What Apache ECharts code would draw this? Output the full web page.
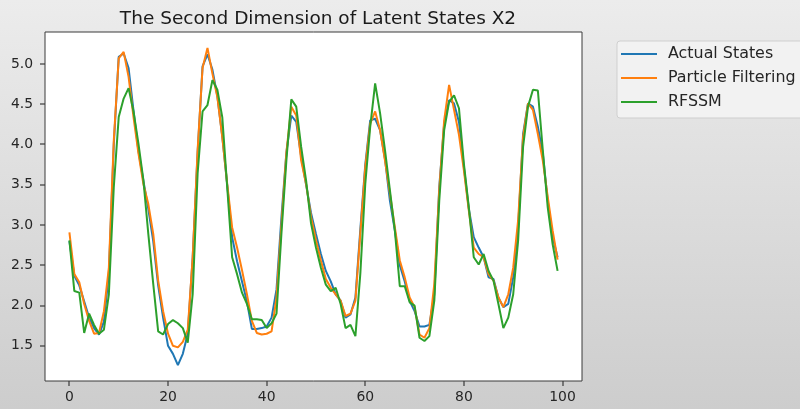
<!DOCTYPE html>
<html>
<head>
<meta charset="utf-8">
<script src="https://cdn.jsdelivr.net/npm/echarts@6/dist/echarts.min.js"></script>
<style>
  html, body { margin: 0; padding: 0; }
  #chart { width: 800px; height: 409px; }
</style>
</head>
<body>
<div id="chart"></div>
<script>
// 数据
var seriesNames = ['Actual States', 'Particle Filtering', 'RFSSM'];
var xTicks = [0, 20, 40, 60, 80, 100];
var yTicks = [1.5, 2.0, 2.5, 3.0, 3.5, 4.0, 4.5, 5.0];

var actualStates = [
  2.80, 2.37, 2.25, 2.05, 1.85, 1.72, 1.64, 1.80, 2.40, 4.00,
  5.09, 5.13, 4.95, 4.42, 3.92, 3.55, 3.20, 2.80, 2.25, 1.85,
  1.50, 1.40, 1.26, 1.40, 1.65, 2.60, 3.90, 4.97, 5.12, 4.93,
  4.60, 4.10, 3.50, 2.85, 2.55, 2.30, 2.05, 1.71, 1.71, 1.72,
  1.74, 1.85, 2.20, 3.10, 3.90, 4.36, 4.28, 3.85, 3.50, 3.15,
  2.89, 2.64, 2.43, 2.30, 2.14, 2.06, 1.85, 1.89, 2.10, 2.95,
  3.75, 4.30, 4.32, 4.18, 3.82, 3.30, 2.93, 2.50, 2.30, 2.06,
  1.93, 1.74, 1.74, 1.76, 2.14, 3.47, 4.26, 4.55, 4.51, 4.28,
  3.72, 3.20, 2.85, 2.72, 2.60, 2.35, 2.33, 2.10, 1.98, 2.02,
  2.35, 2.97, 4.13, 4.51, 4.47, 4.22, 3.89, 3.30, 2.85, 2.60
];
var particleFiltering = [
  2.91, 2.39, 2.29, 2.02, 1.81, 1.65, 1.66, 1.93, 2.47, 4.05,
  5.07, 5.15, 4.84, 4.34, 3.89, 3.51, 3.26, 2.89, 2.31, 1.93,
  1.65, 1.50, 1.48, 1.55, 1.70, 2.60, 3.93, 4.95, 5.20, 4.88,
  4.59, 4.09, 3.51, 2.97, 2.72, 2.44, 2.14, 1.81, 1.66, 1.64,
  1.65, 1.68, 2.10, 3.00, 3.90, 4.47, 4.36, 3.80, 3.51, 3.10,
  2.81, 2.56, 2.33, 2.22, 2.14, 2.06, 1.87, 1.90, 2.06, 2.90,
  3.72, 4.26, 4.41, 4.18, 3.80, 3.39, 2.97, 2.56, 2.35, 2.10,
  1.98, 1.64, 1.60, 1.72, 2.27, 3.43, 4.30, 4.74, 4.43, 4.12,
  3.68, 3.18, 2.72, 2.64, 2.60, 2.39, 2.31, 2.10, 1.98, 2.14,
  2.47, 3.06, 4.09, 4.51, 4.43, 4.13, 3.80, 3.35, 2.93, 2.57
];
var rfssm = [
  2.81, 2.18, 2.16, 1.66, 1.90, 1.76, 1.65, 1.70, 2.14, 3.47,
  4.34, 4.57, 4.70, 4.41, 4.01, 3.56, 2.89, 2.27, 1.68, 1.64,
  1.77, 1.82, 1.78, 1.72, 1.54, 2.14, 3.64, 4.41, 4.49, 4.80,
  4.68, 4.34, 3.47, 2.60, 2.39, 2.16, 2.02, 1.83, 1.83, 1.82,
  1.72, 1.78, 1.90, 2.90, 3.80, 4.56, 4.47, 3.97, 3.55, 3.02,
  2.72, 2.47, 2.26, 2.18, 2.22, 2.02, 1.72, 1.76, 1.62, 2.40,
  3.51, 4.22, 4.76, 4.39, 3.93, 3.43, 2.93, 2.24, 2.24, 2.04,
  2.00, 1.60, 1.56, 1.62, 2.06, 3.30, 4.18, 4.53, 4.61, 4.45,
  3.76, 3.22, 2.60, 2.51, 2.64, 2.43, 2.31, 2.02, 1.72, 1.85,
  2.14, 2.81, 3.97, 4.47, 4.68, 4.67, 3.93, 3.22, 2.76, 2.43
];

var colors = ['#1f77b4', '#ff7f0e', '#2ca02c'];
var font = 'DejaVu Sans';
var axisColor = '#3a3a3a';
var labelColor = '#262626';
var tickLen = 5;
var lineIcon = 'path://M0,0 L36,0 L36,2 L0,2 Z'; // 图例只画一条线

function toPoints(arr) {
  return arr.map(function (v, i) { return [i, v]; });
}

// matplotlib 默认留 5% 边距
var allVals = actualStates.concat(particleFiltering, rfssm);
var yLo = Math.min.apply(null, allVals), yHi = Math.max.apply(null, allVals);
var yPad = (yHi - yLo) * 0.05;
var xPad = (actualStates.length - 1) * 0.05;
var xMin = -xPad, xMax = actualStates.length - 1 + xPad;
var yMin = yLo - yPad, yMax = yHi + yPad;

// 刻度线：用 custom 系列按坐标轴换算位置画在框外
var tickData = xTicks.map(function (v) { return [v, yMin, 0]; })
  .concat(yTicks.map(function (v) { return [xMin, v, 1]; }));

function renderTick(params, api) {
  var p = api.coord([api.value(0), api.value(1)]);
  var isY = api.value(2) === 1;
  var x = Math.round(p[0]), y = Math.round(p[1]);
  return {
    type: 'line',
    z2: 100,
    shape: isY
      ? { x1: x - tickLen, y1: y, x2: x, y2: y }
      : { x1: x, y1: y, x2: x, y2: y + tickLen },
    style: { stroke: axisColor, lineWidth: 1.2 }
  };
}

var myChart = echarts.init(document.getElementById('chart'));
var option = {
  animation: false,
  backgroundColor: new echarts.graphic.LinearGradient(0, 0, 0, 1, [
    { offset: 0, color: '#ececec' },
    { offset: 1, color: '#cdcdcd' }
  ]),
  title: {
    text: 'The Second Dimension of Latent States X2',
    left: 313,
    top: 5,
    textAlign: 'center',
    textStyle: { fontFamily: font, fontSize: 18.5, fontWeight: 'normal', color: '#1a1a1a' }
  },
  legend: {
    orient: 'vertical',
    left: 617,
    top: 41,
    padding: [5, 12, 8, 4],
    itemWidth: 36,
    itemHeight: 14,
    itemGap: 8,
    icon: lineIcon,
    backgroundColor: '#f2f2f2',
    borderColor: '#cfcfcf',
    borderWidth: 1,
    borderRadius: 3,
    textStyle: { fontFamily: font, fontSize: 15.9, color: labelColor, padding: [0, 0, 0, 6] },
    data: seriesNames
  },
  grid: {
    left: 45,
    right: 218,
    top: 32,
    bottom: 28,
    show: true,
    backgroundColor: '#ffffff',
    borderColor: axisColor,
    borderWidth: 1
  },
  xAxis: {
    type: 'value',
    min: xMin,
    max: xMax,
    axisLine: { show: false, onZero: false },
    splitLine: { show: false },
    axisTick: { show: false },
    axisLabel: {
      customValues: xTicks,
      margin: 9,
      fontFamily: font,
      fontSize: 13.9,
      color: labelColor
    }
  },
  yAxis: {
    type: 'value',
    min: yMin,
    max: yMax,
    axisLine: { show: false, onZero: false },
    splitLine: { show: false },
    axisTick: { show: false },
    axisLabel: {
      customValues: yTicks,
      margin: 12,
      fontFamily: font,
      fontSize: 13.9,
      color: labelColor,
      formatter: function (v) { return v.toFixed(1); }
    }
  },
  series: [
    { name: seriesNames[0], data: toPoints(actualStates) },
    { name: seriesNames[1], data: toPoints(particleFiltering) },
    { name: seriesNames[2], data: toPoints(rfssm) }
  ].map(function (s, k) {
    return {
      name: s.name,
      type: 'line',
      data: s.data,
      symbol: 'none',
      color: colors[k],
      lineStyle: { width: 2, color: colors[k] }
    };
  }).concat([{
    name: 'ticks',
    type: 'custom',
    clip: false,
    silent: true,
    z: 10,
    renderItem: renderTick,
    data: tickData
  }])
};
myChart.setOption(option);
</script>
</body>
</html>
